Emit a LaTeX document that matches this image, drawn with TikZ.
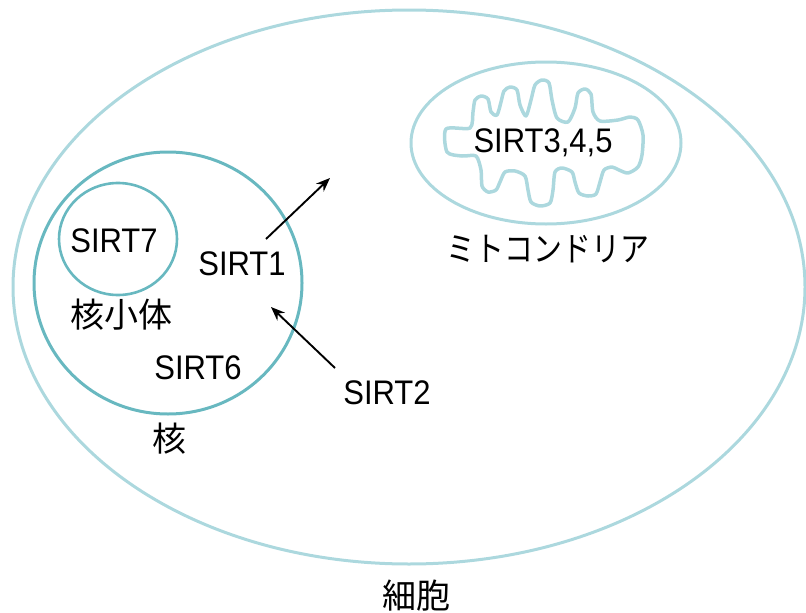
\documentclass[tikz,border=0pt]{standalone}
\usepackage{fontspec}
\usepackage{graphicx}
\setmainfont{Liberation Sans}
\newfontfamily\jpfont{Noto Sans CJK JP}
\usetikzlibrary{arrows.meta,shapes.geometric}

\definecolor{membrane}{RGB}{172,216,222}
\definecolor{nucmem}{RGB}{104,184,192}

% slightly tall lettering for the protein names
\newcommand{\tallname}[1]{\scalebox{1}[1.1]{#1}}

\tikzset{
  organelle/.style={ellipse, draw=#1, line width=3pt, inner sep=0pt},
  sirt/.style={font=\fontsize{31}{36}\selectfont, inner sep=0pt},
  jlabel/.style={font=\jpfont\fontsize{34}{40}\selectfont, inner sep=0pt},
  crista/.style={draw=membrane, line width=3.5pt, line join=round},
  pointer/.style={-{Stealth[length=14pt,width=11pt]}, line width=1.9pt},
}

\begin{document}
\begin{tikzpicture}[x=1pt,y=-1pt]
  \useasboundingbox (0,0) rectangle (806,613);

  % cell, nucleus, nucleolus, mitochondrion
  \node (cell) [organelle=membrane, minimum width=792pt, minimum height=554pt] at (409,287) {};
  \node (nucleus) [organelle=nucmem, minimum width=268pt, minimum height=262pt] at (168,283) {};
  \node (nucleolus) [organelle=nucmem, line width=2.6pt, minimum width=118pt, minimum height=112pt] at (118,239) {};
  \node (mito) [organelle=membrane, minimum width=270pt, minimum height=162pt] at (546,143) {};

  % folded inner membrane of the mitochondrion
  \draw[crista] plot[smooth cycle, tension=0.45] coordinates {
    (446,129) (470,128) (473,112) (475,100) (481,96) (488,99) (491,112)
    (497,115) (501,102) (504,91) (510,87) (517,90) (520,105) (526,116)
    (531,100) (535,85) (542,80) (549,83) (552,100) (557,118) (568,122)
    (575,108) (578,93) (585,89) (591,94) (593,112) (600,121) (618,120)
    (630,117) (638,120) (643,135) (642,155) (638,167)
    (628,173) (619,170) (612,167) (604,170) (600,182) (596,194) (588,196)
    (579,193) (575,182) (572,172) (562,168) (555,172) (553,190) (550,203)
    (540,206) (531,202) (528,190) (525,176) (515,171) (505,172) (500,182)
    (496,190) (488,192) (482,186) (481,170) (476,156) (462,156) (447,152)
  };

  % labels
  \node (s345) [sirt] at (543,143) {\tallname{SIRT3,4,5}};
  \node (mitolbl) [jlabel] at (548,249) {\scalebox{0.85}[1]{ミトコンドリア}};
  \node (s7) [sirt] at (114,241) {\tallname{SIRT7}};
  \node (s1) [sirt] at (242,264) {\tallname{SIRT1}};
  \node (nclbl) [jlabel] at (121,315) {核小体};
  \node (s6) [sirt] at (198,368) {\tallname{SIRT6}};
  \node (s2) [sirt] at (387,393) {\tallname{SIRT2}};
  \node (nuclbl) [jlabel] at (169,439) {核};
  \node (celllbl) [jlabel] at (416,596) {細胞};

  % shuttling arrows
  \coordinate (s1out) at (266,239);
  \coordinate (s1tip) at (330,178);
  \coordinate (s2out) at (335,368);
  \coordinate (s2tip) at (271,307);
  \draw[pointer] (s1out) -- (s1tip);
  \draw[pointer] (s2out) -- (s2tip);
\end{tikzpicture}
\end{document}
